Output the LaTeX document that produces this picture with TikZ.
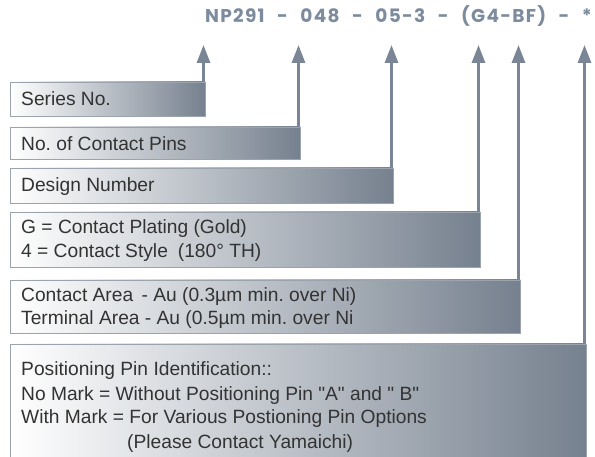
\documentclass[tikz,border=0pt]{standalone}
\usepackage{fontspec}
\setmainfont{Liberation Sans}[Ligatures=TeXOff]
\newfontfamily\titlefont[LetterSpace=7,WordSpace=2.4]{Poppins}
\usetikzlibrary{arrows.meta}
\frenchspacing
\definecolor{slate}{HTML}{76818F}
\definecolor{midgrey}{HTML}{C6CBD2}
\definecolor{edge}{HTML}{9AA3AE}
\definecolor{arrowc}{HTML}{7A8696}
\definecolor{titlec}{HTML}{7D8B9E}
\definecolor{txt}{HTML}{333333}
\tikzset{
  panel/.style={anchor=north west, inner sep=0pt, outer sep=0pt, draw=edge, line width=0.9pt,
    left color=white, middle color=midgrey, right color=slate},
  label/.style={anchor=base west, inner sep=0pt, text=txt, font=\fontsize{19.2}{24}\selectfont},
  pointer/.style={draw=arrowc, line width=3pt, -{Triangle[width=13pt,length=18pt]}},
}
\begin{document}
\begin{tikzpicture}[x=1pt,y=-1pt]
\useasboundingbox (0,0) rectangle (595,457);
\node[anchor=base east, inner sep=0pt, text=titlec, font=\titlefont\bfseries\fontsize{18.5}{20}\selectfont] (title) at (592,23) {NP291 - 048 - 05-3 - (G4-BF) - *};

\begin{scope}
\clip (0,0) rectangle (595,457);
\node[panel, minimum width=195pt, minimum height=34pt] (b1) at (10,82) {};
\node[panel, minimum width=290pt, minimum height=32pt] (b2) at (10,127) {};
\node[panel, minimum width=383pt, minimum height=35pt] (b3) at (10,168) {};
\node[panel, minimum width=470pt, minimum height=55pt] (b4) at (10,212) {};
\node[panel, minimum width=510pt, minimum height=53pt] (b5) at (10,280) {};
\node[panel, minimum width=576pt, minimum height=125pt] (b6) at (10,344) {};
\end{scope}

\coordinate (t1) at (203.5,45);
\coordinate (t2) at (298.5,45);
\coordinate (t3) at (391.5,45);
\coordinate (t4) at (478.5,45);
\coordinate (t5) at (518.5,45);
\coordinate (t6) at (584.5,45);
\draw[pointer] ([xshift=-1.5pt]b1.north east) -- (t1);
\draw[pointer] ([xshift=-1.5pt]b2.north east) -- (t2);
\draw[pointer] ([xshift=-1.5pt]b3.north east) -- (t3);
\draw[pointer] ([xshift=-1.5pt]b4.north east) -- (t4);
\draw[pointer] ([xshift=-1.5pt]b5.north east) -- (t5);
\draw[pointer] ([xshift=-1.5pt]b6.north east) -- (t6);

\node[label] (l1) at (21,106) {Series No.};
\node[label] (l2) at (21,151) {No. of Contact Pins};
\node[label] (l3) at (21,192) {Design Number};
\node[label] (l4a) at (21,234) {G = Contact Plating (Gold)};
\node[label] (l4b) at (21,258) {4 = Contact Style\hspace{10pt}(180° TH)};
\node[label] (l5a) at (21,302) {Contact Area\hspace{3pt} - Au (0.3µm min. over Ni)};
\node[label] (l5b) at (21,325) {Terminal Area - Au (0.5µm min. over Ni};
\node[label] (l6a) at (21,376) {Positioning Pin Identification::};
\node[label] (l6b) at (21,400) {No Mark = Without Positioning Pin "A" and " B"};
\node[label] (l6c) at (21,424) {With Mark = For Various Postioning Pin Options};
\node[label] (l6d) at (127,448) {(Please Contact Yamaichi)};
\end{tikzpicture}
\end{document}
